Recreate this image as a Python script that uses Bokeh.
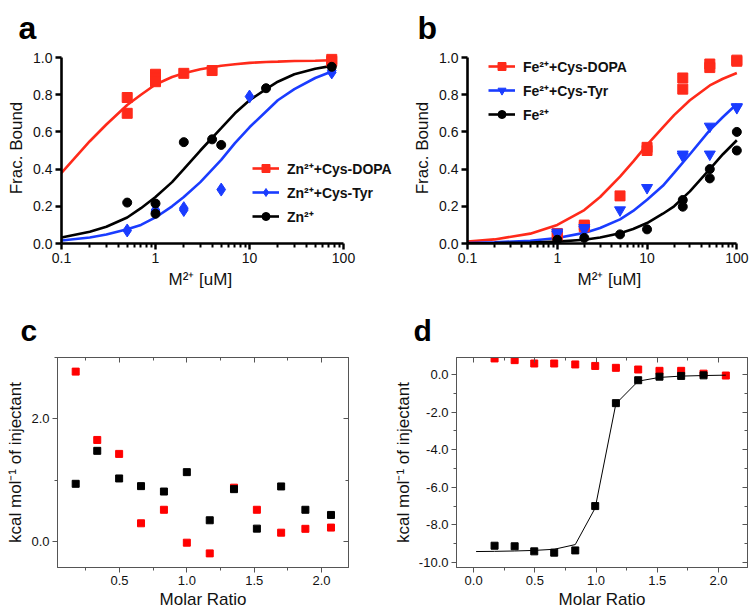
from bokeh.plotting import figure
from bokeh.layouts import row, column
from bokeh.models import (FixedTicker, CustomJSTickFormatter, LinearAxis, Legend,
                          LegendItem, NumeralTickFormatter, Range1d, Title)
from bokeh.embed import file_html
from bokeh.resources import INLINE

FONT = "Liberation Sans"
RED = "#ff2a1a"
BLUE = "#1a3cff"
BLACK = "#000000"
ORED = "#ff0000"
GRAY = "#555555"

# ---------------- Panel a (Zn2+) ----------------
a_dopa_x = [0.5, 0.5, 1, 1, 1, 2, 4, 75, 75]
a_dopa_y = [0.785, 0.70, 0.91, 0.89, 0.87, 0.915, 0.93, 0.99, 0.98]
a_tyr_x = [0.5, 1, 1, 2, 2, 5, 10, 75, 75]
a_tyr_y = [0.07, 0.18, 0.17, 0.19, 0.18, 0.29, 0.79, 0.93, 0.92]
a_zn_x = [0.5, 1, 1, 2, 4, 5, 15, 75]
a_zn_y = [0.22, 0.215, 0.16, 0.545, 0.56, 0.53, 0.835, 0.95]

a_fit_x = [0.1, 0.2, 0.3, 0.5, 0.7, 1, 1.5, 2, 3, 5, 7, 10, 15, 20, 30, 50, 75]
a_fit_dopa = [0.38, 0.55, 0.64, 0.745, 0.80, 0.855, 0.895, 0.915, 0.937, 0.956,
              0.964, 0.971, 0.976, 0.978, 0.981, 0.983, 0.985]
a_fit_tyr = [0.016, 0.032, 0.048, 0.077, 0.10, 0.14, 0.20, 0.25, 0.33, 0.45,
             0.54, 0.625, 0.71, 0.77, 0.83, 0.89, 0.925]
a_fit_zn = [0.032, 0.063, 0.09, 0.14, 0.19, 0.25, 0.33, 0.40, 0.50, 0.62,
            0.70, 0.77, 0.83, 0.87, 0.91, 0.94, 0.955]

# ---------------- Panel b (Fe2+) ----------------
b_dopa_x = [1, 1, 2, 2, 5, 10, 10, 25, 25, 50, 50, 100, 100]
b_dopa_y = [0.054, 0.045, 0.099, 0.09, 0.256, 0.517, 0.50, 0.89, 0.83, 0.965, 0.946, 0.986, 0.98]
b_tyr_x = [1, 1, 2, 2, 5, 10, 25, 25, 50, 50, 100, 100]
b_tyr_y = [0.06, 0.05, 0.085, 0.075, 0.18, 0.30, 0.48, 0.47, 0.63, 0.48, 0.735, 0.73]
b_fe_x = [1, 2, 5, 10, 25, 25, 50, 50, 100, 100]
b_fe_y = [0.02, 0.03, 0.049, 0.076, 0.234, 0.198, 0.40, 0.35, 0.60, 0.50]

b_fit_x = [0.1, 0.2, 0.5, 1, 2, 3, 5, 7, 10, 15, 20, 30, 50, 70, 100]
b_fit_dopa = [0.011, 0.022, 0.053, 0.10, 0.18, 0.25, 0.36, 0.44, 0.53, 0.625,
              0.69, 0.77, 0.85, 0.886, 0.917]
b_fit_tyr = [0.003, 0.006, 0.015, 0.03, 0.057, 0.083, 0.13, 0.175, 0.235, 0.31,
             0.38, 0.48, 0.61, 0.68, 0.75]
b_fit_fe = [0.001, 0.002, 0.005, 0.01, 0.02, 0.032, 0.055, 0.078, 0.11, 0.16,
            0.20, 0.28, 0.40, 0.48, 0.555]

# ---------------- Panel c (ITC, Zn) ----------------
c_x = [0.175, 0.335, 0.4975, 0.66, 0.83, 1.0, 1.17, 1.35, 1.52, 1.70, 1.88, 2.07]
c_red = [2.77, 1.657, 1.43, 0.30, 0.52, -0.016, -0.19, 0.88, 0.52, 0.147, 0.21, 0.23]
c_black = [0.943, 1.48, 1.03, 0.905, 0.817, 1.133, 0.349, 0.856, 0.213, 0.90, 0.52, 0.436]

# ---------------- Panel d (ITC, Fe) ----------------
d_red_x = [0.171, 0.335, 0.495, 0.658, 0.83, 0.993, 1.162, 1.344, 1.518, 1.695, 1.878, 2.06]
d_red_y = [0.86, 0.77, 0.59, 0.59, 0.54, 0.46, 0.36, 0.27, 0.20, 0.20, 0.05, -0.05]
d_black_x = [0.171, 0.335, 0.495, 0.658, 0.83, 0.993, 1.162, 1.344, 1.518, 1.695, 1.878]
d_black_y = [-9.11, -9.14, -9.41, -9.48, -9.36, -7.0, -1.52, -0.30, -0.11, -0.07, -0.04]
d_fit_x = [0.02, 0.171, 0.335, 0.495, 0.658, 0.83, 0.993, 1.162, 1.344, 1.518, 1.695, 1.878, 2.06]
d_fit_y = [-9.42, -9.41, -9.39, -9.36, -9.30, -9.05, -7.1, -1.55, -0.35, -0.15, -0.08, -0.05, -0.03]

log_major = [0.1, 1, 10, 100]
log_minor = [0.2, 0.3, 0.4, 0.5, 0.6, 0.7, 0.8, 0.9, 2, 3, 4, 5, 6, 7, 8, 9,
             20, 30, 40, 50, 60, 70, 80, 90]
frac_ticks = [0.0, 0.2, 0.4, 0.6, 0.8, 1.0]

ROW1_H = 300
ROW2_H = 312


def style_title(p, text, offset, standoff, size):
    p.title.text = text
    p.title.text_font = FONT
    p.title.text_font_size = size
    p.title.text_font_style = "bold"
    p.title.align = "left"
    p.title.offset = offset
    p.title.standoff = standoff
    p.title.text_color = "#000000"


def frac_fig(width, left, right, xmax, label, title_offset, xlabel_offset):
    p = figure(width=width, height=ROW1_H, x_axis_type="log",
               x_range=Range1d(0.1, xmax), y_range=Range1d(0, 1.027),
               output_backend="svg", toolbar_location=None,
               min_border_left=left, min_border_right=right,
               min_border_top=52, min_border_bottom=57)
    p.outline_line_color = None
    p.grid.visible = False
    style_title(p, label, title_offset, 13, "32px")
    for ax in (p.xaxis[0], p.yaxis[0]):
        ax.axis_line_width = 2.6
        ax.axis_line_color = "#000000"
        ax.major_tick_line_width = 2.4
        ax.major_tick_line_color = "#000000"
        ax.minor_tick_line_width = 2
        ax.minor_tick_line_color = "#000000"
        ax.major_tick_out = 6
        ax.major_tick_in = 0
        ax.minor_tick_out = 4
        ax.minor_tick_in = 0
        ax.major_label_text_font = FONT
        ax.major_label_text_font_size = "14px"
        ax.major_label_text_color = "#111111"
        ax.axis_label_text_font = FONT
        ax.axis_label_text_font_size = "17px"
        ax.axis_label_text_font_style = "normal"
        ax.axis_label_text_color = "#111111"
        ax.major_label_standoff = 3
        ax.axis_label_standoff = 4
    xa = p.xaxis[0]
    xa.bounds = (0.1, 100)
    xa.ticker = FixedTicker(ticks=log_major, minor_ticks=log_minor)
    xa.formatter = CustomJSTickFormatter(code="return tick.toString()")
    # x-axis title placed relative to the frame's left edge
    t = Title(text="M²⁺ [uM]", align="left", offset=xlabel_offset, standoff=5,
              text_font=FONT, text_font_size="17px", text_font_style="normal",
              text_color="#111111")
    p.add_layout(t, "below")
    ya = p.yaxis[0]
    ya.bounds = (0, 1)
    ya.ticker = FixedTicker(ticks=frac_ticks, minor_ticks=[])
    ya.formatter = NumeralTickFormatter(format="0.0")
    ya.axis_label = "Frac. Bound"
    return p


def legend_for(p, items, loc):
    lg = Legend(items=items, location=loc, orientation="vertical",
                label_text_font=FONT, label_text_font_size="14px",
                label_text_font_style="bold", label_text_color="#111111",
                glyph_width=27, glyph_height=20, label_height=20,
                label_standoff=8, spacing=4, padding=0, margin=0,
                border_line_alpha=0, background_fill_alpha=0)
    p.add_layout(lg, "center")


# ---- a ---- (frame runs to the canvas edge so the legend is not clipped)
pa = frac_fig(410, 61, 0, 516, "a", -43, 107)
la1 = pa.line(a_fit_x, a_fit_dopa, line_color=RED, line_width=2.6)
la2 = pa.line(a_fit_x, a_fit_tyr, line_color=BLUE, line_width=2.6)
la3 = pa.line(a_fit_x, a_fit_zn, line_color=BLACK, line_width=2.6)
sa1 = pa.scatter(a_dopa_x, a_dopa_y, marker="square", size=10, color=RED)
sa2 = pa.scatter(a_tyr_x, a_tyr_y, marker="diamond", size=13, color=BLUE)
sa3 = pa.scatter(a_zn_x, a_zn_y, marker="circle", size=9, color=BLACK)
legend_for(pa, [LegendItem(label="Zn²⁺+Cys-DOPA", renderers=[la1, sa1]),
                LegendItem(label="Zn²⁺+Cys-Tyr", renderers=[la2, sa2]),
                LegendItem(label="Zn²⁺", renderers=[la3, sa3])], (191, 17))

# ---- b ----
pb = frac_fig(340, 51, 0, 142, "b", -50, 110)
lb1 = pb.line(b_fit_x, b_fit_dopa, line_color=RED, line_width=2.6)
lb2 = pb.line(b_fit_x, b_fit_tyr, line_color=BLUE, line_width=2.6)
lb3 = pb.line(b_fit_x, b_fit_fe, line_color=BLACK, line_width=2.6)
sb1 = pb.scatter(b_dopa_x, b_dopa_y, marker="square", size=10, color=RED)
sb2 = pb.scatter(b_tyr_x, b_tyr_y, marker="inverted_triangle", size=11, color=BLUE)
sb3 = pb.scatter(b_fe_x, b_fe_y, marker="circle", size=9, color=BLACK)
legend_for(pb, [LegendItem(label="Fe²⁺+Cys-DOPA", renderers=[lb1, sb1]),
                LegendItem(label="Fe²⁺+Cys-Tyr", renderers=[lb2, sb2]),
                LegendItem(label="Fe²⁺", renderers=[lb3, sb3])], (21, 119))


def itc_fig(width, left, right, xr, yr, xmaj, xmin, ymaj, ymin, label, title_offset):
    p = figure(width=width, height=ROW2_H, x_range=Range1d(*xr), y_range=Range1d(*yr),
               output_backend="svg", toolbar_location=None,
               min_border_left=left, min_border_right=right,
               min_border_top=57, min_border_bottom=45)
    p.grid.visible = False
    p.outline_line_color = GRAY
    p.outline_line_width = 1
    style_title(p, label, title_offset, 21, "30px")
    xt = FixedTicker(ticks=xmaj, minor_ticks=xmin)
    yt = FixedTicker(ticks=ymaj, minor_ticks=ymin)
    p.xaxis[0].ticker = xt
    p.yaxis[0].ticker = yt
    for ax in (p.xaxis[0], p.yaxis[0]):
        ax.axis_line_color = GRAY
        ax.major_tick_line_color = GRAY
        ax.minor_tick_line_color = GRAY
        ax.major_tick_out = 5
        ax.major_tick_in = 0
        ax.minor_tick_out = 3
        ax.minor_tick_in = 0
        ax.formatter = NumeralTickFormatter(format="0.0")
        ax.major_label_text_font = FONT
        ax.major_label_text_font_size = "13px"
        ax.major_label_text_color = "#111111"
        ax.axis_label_text_font = FONT
        ax.axis_label_text_font_size = "17px"
        ax.axis_label_text_font_style = "normal"
        ax.axis_label_text_color = "#111111"
        ax.major_label_standoff = 3
        ax.axis_label_standoff = 3
    p.xaxis[0].axis_label = "Molar Ratio"
    p.xaxis[0].axis_label_standoff = 2
    p.yaxis[0].axis_label = "kcal mol⁻¹ of injectant"
    blank = CustomJSTickFormatter(code="return ''")
    for loc, tk in (("above", xt), ("right", yt)):
        ax = LinearAxis(ticker=tk, formatter=blank, axis_line_color=GRAY,
                        major_tick_line_color=GRAY, minor_tick_line_color=GRAY,
                        major_tick_in=5, major_tick_out=0,
                        minor_tick_in=3, minor_tick_out=0,
                        major_label_standoff=0,
                        major_label_text_font_size="1px")
        p.add_layout(ax, loc)
    return p


# ---- c ----
pc = itc_fig(375, 57, 27, (0.04, 2.2), (-0.42, 3.0),
             [0.5, 1.0, 1.5, 2.0], [0.25, 0.75, 1.25, 1.75],
             [0.0, 2.0], [1.0, 3.0], "c", -37)
pc.scatter(c_x, c_red, marker="square", size=7, color=ORED)
pc.scatter(c_x, c_black, marker="square", size=7, color=BLACK)

# ---- d ----
pd = itc_fig(375, 81, 3, (-0.14, 2.237), (-10.27, 0.91),
             [0.0, 0.5, 1.0, 1.5, 2.0], [0.25, 0.75, 1.25, 1.75],
             [0.0, -2.0, -4.0, -6.0, -8.0, -10.0], [-1.0, -3.0, -5.0, -7.0, -9.0], "d", -43)
pd.scatter(d_red_x, d_red_y, marker="square", size=7, color=ORED)
pd.line(d_fit_x, d_fit_y, line_color=BLACK, line_width=1)
pd.scatter(d_black_x, d_black_y, marker="square", size=7, color=BLACK)

layout = column(row(pa, pb), row(pc, pd))
open("out.html", "w").write(file_html(layout, INLINE))
